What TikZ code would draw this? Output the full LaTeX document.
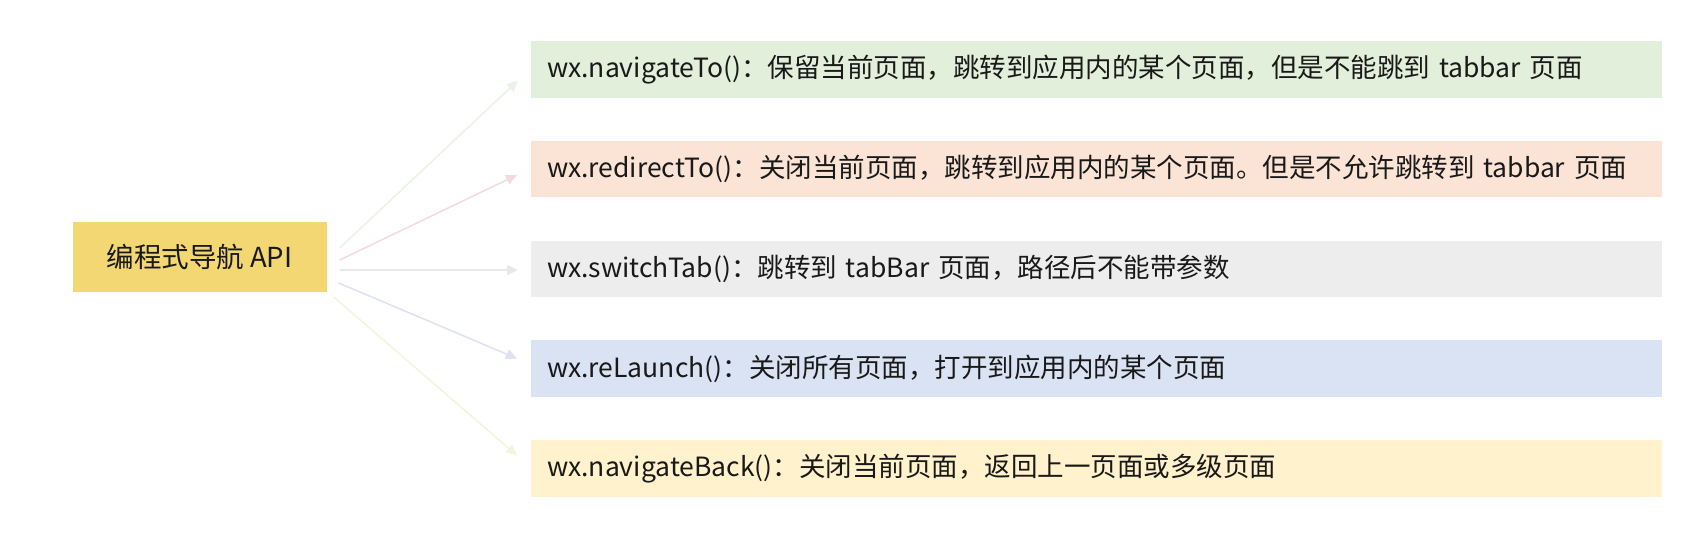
\documentclass[tikz,border=0pt]{standalone}
\usepackage{fontspec}
\setmainfont{Noto Sans CJK SC}
\usetikzlibrary{calc,arrows.meta}
\definecolor{apiyellow}{RGB}{242,215,115}
\definecolor{bgreen}{RGB}{226,239,218}
\definecolor{bpeach}{RGB}{251,228,214}
\definecolor{bgray}{RGB}{237,237,237}
\definecolor{bblue}{RGB}{218,227,243}
\definecolor{byellow}{RGB}{255,242,204}
\definecolor{agreen}{RGB}{233,242,229}
\definecolor{apink}{RGB}{244,218,224}
\definecolor{agray}{RGB}{232,232,232}
\definecolor{ablue}{RGB}{223,224,241}
\definecolor{ayellow}{RGB}{241,245,218}
\definecolor{txt}{RGB}{25,25,25}
\tikzset{
  apibox/.style={rectangle, fill=apiyellow, minimum width=254pt, minimum height=70pt, inner sep=0pt, text=txt, font=\fontsize{27.5}{31}\selectfont},
  itembox/.style={rectangle, anchor=west, minimum width=1131pt, minimum height=56.5pt, inner xsep=16pt, inner ysep=0pt, text width=1099pt, align=left, text=txt, font=\fontsize{26.5}{30}\selectfont},
  conn/.style={line width=1.5pt, -{Triangle[length=11pt,width=10pt]}},
}
\begin{document}
\begin{tikzpicture}[x=1pt,y=-1pt]
\useasboundingbox (0,0) rectangle (1700,539);
\node[apibox] (api) at (199.5,257) {编程式导航 API};
\node[itembox, fill=bgreen] (n1) at (531,69.5) {wx.navigateTo()：保留当前页面，跳转到应用内的某个页面，但是不能跳到 tabbar 页面};
\node[itembox, fill=bpeach] (n2) at (531,169) {wx.redirectTo()：关闭当前页面，跳转到应用内的某个页面。但是不允许跳转到 tabbar 页面};
\node[itembox, fill=bgray] (n3) at (531,269) {wx.switchTab()：跳转到 tabBar 页面，路径后不能带参数};
\node[itembox, fill=bblue] (n4) at (531,368.5) {wx.reLaunch()：关闭所有页面，打开到应用内的某个页面};
\node[itembox, fill=byellow] (n5) at (531,468.5) {wx.navigateBack()：关闭当前页面，返回上一页面或多级页面};
\draw[conn, agreen] ($(api.east)+(13,-9)$) -- ($(n1.west)+(-13,11)$);
\draw[conn, apink] ($(api.east)+(13,3)$) -- ($(n2.west)+(-14,6)$);
\draw[conn, agray] ($(api.east)+(13,13)$) -- ($(n3.west)+(-13,1)$);
\draw[conn, ablue] ($(api.east)+(12,26)$) -- ($(n4.west)+(-14,-10)$);
\draw[conn, ayellow] ($(api.east)+(7,40)$) -- ($(n5.west)+(-14,-13)$);
\end{tikzpicture}
\end{document}
